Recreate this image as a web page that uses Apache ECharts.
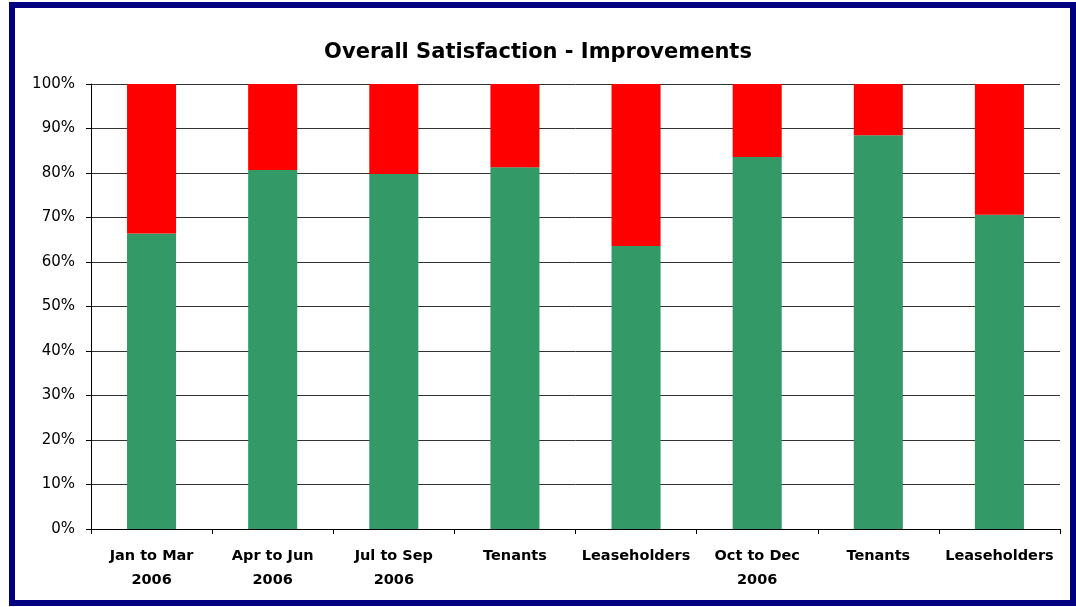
<!DOCTYPE html>
<html>
<head>
<meta charset="utf-8">
<script src="https://cdn.jsdelivr.net/npm/echarts@6/dist/echarts.min.js"></script>
<style>
  html, body { margin: 0; padding: 0; background: #ffffff; }
  .frame {
    position: absolute; left: 9px; top: 2px; width: 1055px; height: 592px;
    border: 6px solid #000080; background: #ffffff;
  }
  #chart { position: absolute; left: 0; top: 0; width: 1076px; height: 607px; }
</style>
</head>
<body>
<div class="frame"></div>
<div id="chart"></div>
<script>
  // categories (two-line labels)
  const categories = [
    'Jan to Mar\n2006', 'Apr to Jun\n2006', 'Jul to Sep\n2006', 'Tenants',
    'Leaseholders', 'Oct to Dec\n2006', 'Tenants', 'Leaseholders'
  ];
  // satisfied share (green), %
  const satisfied = [66.4, 80.7, 79.8, 81.3, 63.6, 83.6, 88.5, 70.6];
  // dissatisfied share (red), %
  const dissatisfied = [33.6, 19.3, 20.2, 18.7, 36.4, 16.4, 11.5, 29.4];

  const font = 'DejaVu Sans, Verdana, sans-serif';

  const myChart = echarts.init(document.getElementById('chart'));
  const option = {
    animation: false,
    title: {
      text: 'Overall Satisfaction - Improvements',
      left: 'center',
      top: 37,
      textStyle: { fontFamily: font, fontSize: 21, fontWeight: 'bold', color: '#000000' }
    },
    grid: { left: 91, right: 16, top: 84, bottom: 78, containLabel: false },
    xAxis: {
      type: 'category',
      data: categories,
      axisLine: { lineStyle: { color: '#000000', width: 1 } },
      axisTick: { show: true, length: 5, lineStyle: { color: '#000000' } },
      axisLabel: {
        interval: 0,
        margin: 15,
        fontFamily: font,
        fontSize: 14.5,
        fontWeight: 'bold',
        lineHeight: 24,
        color: '#000000'
      }
    },
    yAxis: {
      type: 'value',
      min: 0,
      max: 100,
      interval: 10,
      axisLine: { show: true, lineStyle: { color: '#000000', width: 1 } },
      axisTick: { show: true, length: 5, lineStyle: { color: '#000000' } },
      axisLabel: {
        margin: 16,
        fontFamily: font,
        fontSize: 15,
        color: '#000000',
        formatter: '{value}%'
      },
      splitLine: { show: true, lineStyle: { color: '#333333', width: 1 } }
    },
    series: [
      {
        name: 'Satisfied',
        type: 'bar',
        stack: 'total',
        data: satisfied,
        barWidth: '40.5%',
        itemStyle: { color: '#339966' }
      },
      {
        name: 'Dissatisfied',
        type: 'bar',
        stack: 'total',
        data: dissatisfied,
        barWidth: '40.5%',
        itemStyle: { color: '#FF0000' }
      }
    ]
  };
  option && myChart.setOption(option);
</script>
</body>
</html>
